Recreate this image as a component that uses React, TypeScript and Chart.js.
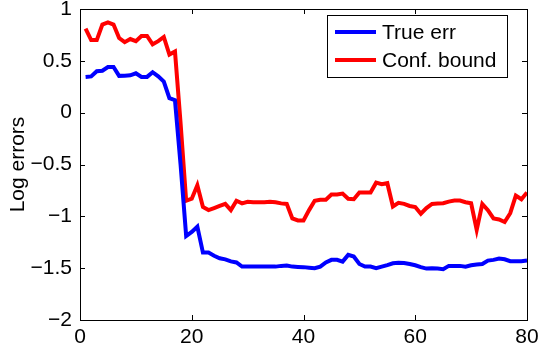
import React, { useEffect, useRef } from "react";
import { Chart, registerables } from "chart.js";

Chart.register(...registerables);

const iterations: number[] = Array.from({ length: 80 }, (_, i) => i + 1);

const trueErr: number[] = [
  0.345, 0.35, 0.4, 0.405, 0.44, 0.44, 0.355, 0.357, 0.36, 0.38,
  0.345, 0.345, 0.39, 0.35, 0.3, 0.14, 0.12, -0.5, -1.19, -1.15,
  -1.1, -1.35, -1.35, -1.38, -1.405, -1.415, -1.435, -1.445, -1.485, -1.485,
  -1.485, -1.485, -1.485, -1.485, -1.485, -1.478, -1.475, -1.485, -1.488, -1.49,
  -1.495, -1.5, -1.485, -1.445, -1.42, -1.42, -1.437, -1.372, -1.388, -1.46,
  -1.485, -1.485, -1.5, -1.485, -1.47, -1.453, -1.447, -1.45, -1.46, -1.472,
  -1.49, -1.504, -1.5, -1.504, -1.51, -1.478, -1.478, -1.478, -1.485, -1.472,
  -1.465, -1.46, -1.427, -1.42, -1.408, -1.414, -1.433, -1.433, -1.433, -1.427,
];

const confBound: number[] = [
  0.81, 0.7, 0.7, 0.85, 0.87, 0.85, 0.72, 0.68, 0.71, 0.69,
  0.74, 0.74, 0.66, 0.69, 0.73, 0.56, 0.59, -0.1, -0.85, -0.83,
  -0.7, -0.91, -0.94, -0.92, -0.9, -0.88, -0.94, -0.85, -0.875, -0.86,
  -0.865, -0.865, -0.865, -0.86, -0.865, -0.875, -0.88, -1.02, -1.04, -1.04,
  -0.94, -0.85, -0.84, -0.84, -0.79, -0.79, -0.78, -0.83, -0.835, -0.77,
  -0.77, -0.77, -0.675, -0.69, -0.68, -0.905, -0.87, -0.88, -0.9, -0.91,
  -0.975, -0.92, -0.88, -0.877, -0.874, -0.858, -0.848, -0.848, -0.864, -0.874,
  -1.13, -0.88, -0.94, -1.02, -1.03, -1.055, -0.97, -0.8, -0.835, -0.77,
];

const seriesLabels: string[] = ["True err", "Conf. bound"];
const seriesColors: string[] = ["#0000ff", "#ff0000"];
const yTitle = "Log errors";
const xMin = 0, xMax = 80, xStep = 20;
const yMin = -2, yMax = 1, yStep = 0.5;

const FONT = "'Liberation Sans', Arial, Helvetica, sans-serif";
const FS = 21;

const boxPlugin = {
  id: "matlabBox",
  afterDatasetsDraw(chart: any) {
    const { ctx, chartArea: a, scales } = chart;
    ctx.save();
    ctx.strokeStyle = "#000";
    ctx.lineWidth = 1;
    ctx.beginPath();
    const tl = 5;
    scales.x.ticks.forEach((t: any) => {
      const px = Math.round(scales.x.getPixelForValue(t.value)) + 0.5;
      ctx.moveTo(px, a.bottom);
      ctx.lineTo(px, a.bottom - tl);
      ctx.moveTo(px, a.top);
      ctx.lineTo(px, a.top + tl);
    });
    scales.y.ticks.forEach((t: any) => {
      const py = Math.round(scales.y.getPixelForValue(t.value)) + 0.5;
      ctx.moveTo(a.left, py);
      ctx.lineTo(a.left + tl, py);
      ctx.moveTo(a.right, py);
      ctx.lineTo(a.right - tl, py);
    });
    ctx.stroke();
    ctx.strokeRect(Math.round(a.left) + 0.5, Math.round(a.top) + 0.5, Math.round(a.right - a.left), Math.round(a.bottom - a.top));

    // legend
    const lx = 327, ly = 15, lw = 180, lh = 62;
    ctx.fillStyle = "#fff";
    ctx.fillRect(lx, ly, lw, lh);
    ctx.strokeRect(lx + 0.5, ly + 0.5, lw, lh);
    ctx.font = `${FS}px ${FONT}`;
    ctx.textBaseline = "middle";
    ctx.textAlign = "left";
    chart.data.datasets.forEach((ds: any, i: number) => {
      const y = ly + 17 + i * 28;
      ctx.strokeStyle = ds.borderColor;
      ctx.lineWidth = 4;
      ctx.beginPath();
      ctx.moveTo(lx + 8, y);
      ctx.lineTo(lx + 49, y);
      ctx.stroke();
      ctx.fillStyle = "#000";
      ctx.fillText(ds.label, lx + 55, y + 1);
    });
    ctx.restore();
  },
};

export default function App() {
  const ref = useRef<HTMLCanvasElement>(null);
  useEffect(() => {
    if (!ref.current) return;
    const chart = new Chart(ref.current, {
      type: "line",
      data: {
        datasets: [trueErr, confBound].map((vals, i) => ({
          label: seriesLabels[i],
          data: iterations.map((x, j) => ({ x, y: vals[j] })),
          borderColor: seriesColors[i],
          backgroundColor: seriesColors[i],
          borderWidth: 4,
          pointRadius: 0,
          tension: 0,
          fill: false,
        })),
      },
      options: {
        animation: false,
        responsive: false,
        layout: { padding: { top: 9, right: 15, left: 0, bottom: 0 } },
        plugins: { legend: { display: false }, tooltip: { enabled: false } },
        scales: {
          x: {
            type: "linear",
            min: xMin,
            max: xMax,
            grid: { display: false, drawTicks: false },
            border: { display: false },
            ticks: { stepSize: xStep, padding: 5, color: "#000", font: { family: FONT, size: FS }, maxRotation: 0 },
            afterFit: (s: any) => { s.height = 31; s.paddingLeft = 0; s.paddingRight = 0; },
          },
          y: {
            type: "linear",
            min: yMin,
            max: yMax,
            grid: { display: false, drawTicks: false },
            border: { display: false },
            title: { display: true, text: yTitle, color: "#000", font: { family: FONT, size: FS }, padding: { top: 6, bottom: 0 } },
            ticks: {
              stepSize: yStep,
              padding: 8,
              color: "#000",
              font: { family: FONT, size: FS },
              callback: (v: any) => String(v).replace("-", "\u2212"),
            },
            afterFit: (s: any) => { s.width = 80; s.paddingTop = 0; s.paddingBottom = 0; },
          },
        },
      },
      plugins: [boxPlugin],
    });
    return () => chart.destroy();
  }, []);
  return (
    <div style={{ position: "fixed", left: 0, top: 0, width: 542, height: 351, background: "#fff" }}>
      <canvas ref={ref} width={542} height={351} />
    </div>
  );
}
